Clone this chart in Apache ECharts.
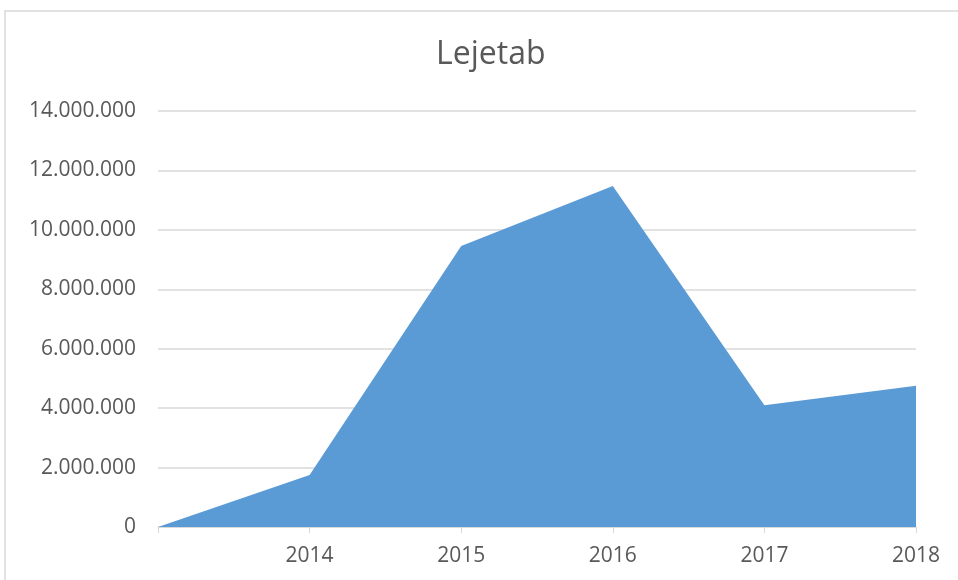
<!DOCTYPE html>
<html>
<head>
<meta charset="utf-8">
<script src="https://cdn.jsdelivr.net/npm/echarts@6/dist/echarts.min.js"></script>
<style>
  html, body { margin: 0; padding: 0; background: #fff; }
  #chart { width: 958px; height: 580px; }
</style>
</head>
<body>
<div id="chart"></div>
<script>
const years = ['', '2014', '2015', '2016', '2017', '2018']
const lejetab = [0, 1750000, 9460000, 11480000, 4100000, 4750000]
const yTicks = { min: 0, max: 14000000, interval: 2000000 }

const textColor = '#595959'
const lineColor = '#d9d9d9'
const fontFamily = '"Open Sans", "Noto Sans", sans-serif'

const fmt = v => String(v).replace(/\B(?=(\d{3})+(?!\d))/g, '.')

const chart = echarts.init(document.getElementById('chart'))

const option = {
  backgroundColor: '#fff',
  animation: false,
  title: {
    text: 'Lejetab',
    left: 431,
    top: 34,
    textStyle: { color: textColor, fontSize: 32, fontWeight: 'normal', fontFamily },
  },
  graphic: [
    {
      type: 'rect',
      shape: { x: 5, y: 11, width: 1000, height: 1000 },
      style: { fill: 'none', stroke: lineColor, lineWidth: 1.5 },
      silent: true,
    },
  ],
  grid: {
    left: 158,
    right: 42,
    top: 111,
    bottom: 53,
  },
  xAxis: {
    type: 'category',
    data: years,
    boundaryGap: false,
    axisLine: { lineStyle: { color: lineColor } },
    axisTick: { show: true, length: 6, lineStyle: { color: lineColor } },
    axisLabel: { color: textColor, fontSize: 21, fontFamily, margin: 19 },
    splitLine: { show: false },
  },
  yAxis: {
    type: 'value',
    min: yTicks.min,
    max: yTicks.max,
    interval: yTicks.interval,
    axisLine: { show: false },
    axisTick: { show: false },
    axisLabel: { color: textColor, fontSize: 21, fontFamily, margin: 22, formatter: fmt },
    splitLine: { lineStyle: { color: lineColor, width: 1.5 } },
  },
  series: [
    {
      name: 'Lejetab',
      type: 'line',
      data: lejetab,
      symbol: 'none',
      lineStyle: { width: 0 },
      areaStyle: { color: '#5b9bd5', opacity: 1 },
    },
  ],
}

chart.setOption(option)
</script>
</body>
</html>
